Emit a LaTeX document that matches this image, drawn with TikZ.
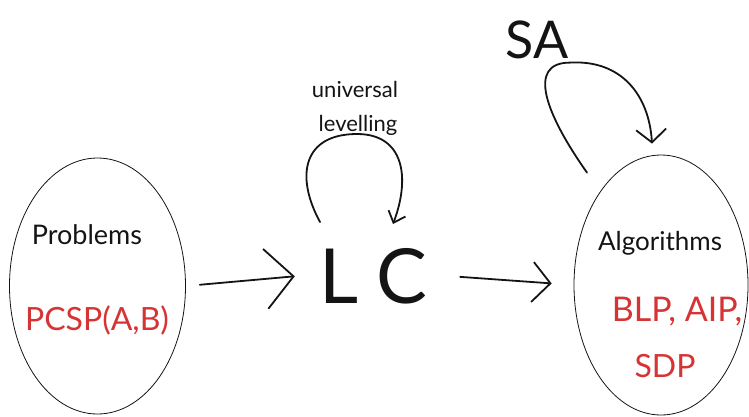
\documentclass[tikz,border=0pt]{standalone}
\usepackage{fontspec}
\setmainfont{Lato}
\usetikzlibrary{shapes.geometric,arrows.meta,calc}
\definecolor{pen}{RGB}{20,20,20}
\definecolor{redpen}{RGB}{214,52,52}
\tikzset{
  bubble/.style={ellipse,draw=pen,line width=0.8pt,inner sep=0pt},
  hand/.style={draw=pen,line width=1.8pt,line cap=round,line join=round},
  word/.style={text=pen,inner sep=0pt},
  redword/.style={text=redpen,inner sep=0pt},
}
\begin{document}
\begin{tikzpicture}[x=1pt,y=-1pt]
\useasboundingbox (0,0) rectangle (749,416);
% nodes
\node[bubble,minimum width=176pt,minimum height=256pt] (P) at (97.5,286) {};
\node[bubble,minimum width=174pt,minimum height=260pt] (A) at (661,285) {};
\node[word,font=\fontsize{76}{76}\selectfont,minimum width=150pt] (LC) at (373,276) {L\hspace{18pt}C};
\node[word,font=\fontsize{27}{27}\selectfont] (probl) at (87,235) {Problems};
\node[redword,font=\fontsize{32}{32}\selectfont] (pcsp) at (97,320) {PCSP(A,B)};
\node[word,font=\fontsize{26}{26}\selectfont] (algo) at (660,243) {Algorithms};
\node[redword,font=\fontsize{34}{34}\selectfont] (blp) at (677,312) {BLP, AIP,};
\node[redword,font=\fontsize{32}{32}\selectfont] (sdp) at (665,366) {SDP};
\node[word,font=\fontsize{52}{52}\selectfont] (sa) at (537,40) {SA};
\node[word,font=\fontsize{22}{22}\selectfont] (univ) at (355,89) {universal};
\node[word,font=\fontsize{22}{22}\selectfont] (lev) at (358,125) {levelling};
% connectors
\draw[hand,-{Straight Barb[length=28pt,width=60pt,line width=1.8pt]},shorten <=14pt,shorten >=3pt] (P.east) -- (LC.west);
\draw[hand,-{Straight Barb[length=18pt,width=40pt,line width=1.8pt]},shorten <=12pt,shorten >=22pt] (LC.east) -- (A.west);
% self loops
\coordinate (ul1) at ($(LC)+(-53,-54)$);
\coordinate (ul2) at ($(LC)+(-16,-142)$);
\coordinate (ul3) at ($(LC)+(20,-52)$);
\draw[hand,-{Straight Barb[length=10pt,width=18pt,line width=1.8pt]}] (ul1) .. controls ($(LC)+(-78,-100)$) and ($(LC)+(-70,-142)$) .. (ul2) .. controls ($(LC)+(30,-142)$) and ($(LC)+(38,-100)$) .. (ul3);
\coordinate (sa1) at ($(A.north)+(-74,18)$);
\coordinate (sa2) at ($(A.north)+(-91,-92)$);
\coordinate (sa3) at ($(A.north)+(-9,-11)$);
\draw[hand,-{Straight Barb[length=13pt,width=30pt,line width=1.8pt]}] (sa1) .. controls ($(A.north)+(-115,-40)$) and ($(A.north)+(-135,-92)$) .. (sa2) .. controls ($(A.north)+(-40,-95)$) and ($(A.north)+(-12,-60)$) .. (sa3);
\end{tikzpicture}
\end{document}
